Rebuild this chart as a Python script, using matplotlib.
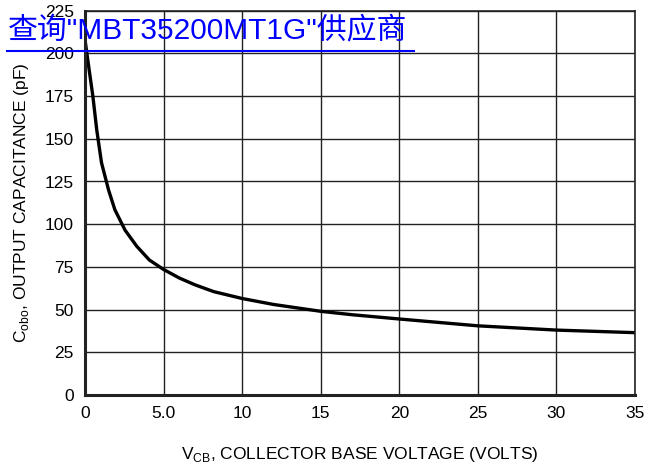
#!/usr/bin/env python3
# Output capacitance vs collector-base voltage

import matplotlib
matplotlib.use("Agg")
import matplotlib.pyplot as plt
from matplotlib.lines import Line2D

# Curve
vcb = [0, 0.27, 0.5, 0.75, 1.05, 1.5, 1.9, 2.55, 3.3, 4.1, 5.0, 6.0,
       7.0, 8.2, 10, 12, 15, 17, 20, 25, 30, 35]
cobo = [208, 190, 175, 155, 136, 120, 108.5, 96.5, 87, 79, 73.5, 68.5,
        64.5, 60.5, 56.5, 53, 49, 47, 44.5, 40.5, 38, 36.5]

x_ticks = [0, 5, 10, 15, 20, 25, 30, 35]
x_tick_labels = ["0", "5.0", "10", "15", "20", "25", "30", "35"]
y_ticks = [0, 25, 50, 75, 100, 125, 150, 175, 200, 225]

overlay_text = "查询\"MBT35200MT1G\"供应商"

plt.rcParams["font.family"] = ["Liberation Sans", "DejaVu Sans"]

fig = plt.figure(figsize=(6.47, 4.73), dpi=100)
ax = fig.add_axes([85 / 647, 1 - 395 / 473, 550 / 647, (395 - 10.7) / 473])

ax.plot(vcb, cobo, color="black", linewidth=2.4, solid_capstyle="round",
        solid_joinstyle="round")

ax.set_xlim(0, 35)
ax.set_ylim(0, 225)
ax.set_xticks(x_ticks)
ax.set_xticklabels(x_tick_labels)
ax.set_yticks(y_ticks)
ax.tick_params(length=0, labelsize=12.5, pad=8)
ax.grid(True, color="#222222", linewidth=1.0)

# Heavier left/bottom frame like the datasheet
for side, lw in (("left", 2.2), ("bottom", 2.2), ("top", 1.2), ("right", 1.2)):
    ax.spines[side].set_linewidth(lw)
    ax.spines[side].set_color("#222222")

ax.set_xlabel(r"V$_{\mathregular{CB}}$, COLLECTOR BASE VOLTAGE (VOLTS)",
              fontsize=12.5, labelpad=17)
ax.set_ylabel(r"C$_{\mathregular{obo}}$, OUTPUT CAPACITANCE (pF)",
              fontsize=12.5, labelpad=10)

# Blue link overlay at top left
fig.text(8 / 647, 1 - 31 / 473, overlay_text, color="#0000ff", fontsize=21.5,
         va="center", ha="left",
         family=["Liberation Sans", "Noto Sans CJK SC"])
fig.add_artist(Line2D([7 / 647, 414 / 647], [1 - 51 / 473, 1 - 51 / 473],
                      color="#0000ff", linewidth=1.5,
                      transform=fig.transFigure))

fig.savefig("out.png", dpi=100)
